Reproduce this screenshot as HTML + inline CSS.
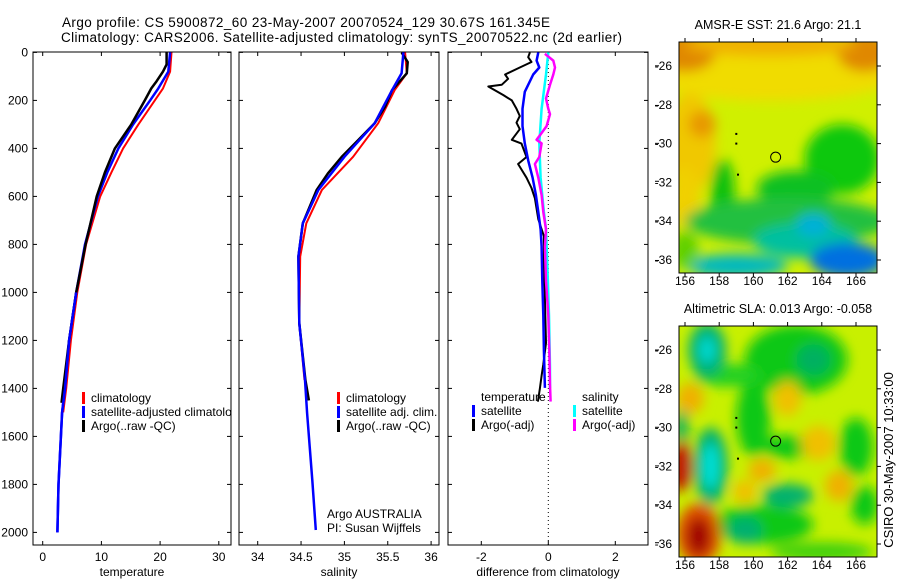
<!DOCTYPE html>
<html><head><meta charset="utf-8"><style>
html,body{margin:0;padding:0;background:#fff;}
svg{display:block;font-family:"Liberation Sans",sans-serif;}
</style></head><body>
<svg id="fig" width="900" height="580" viewBox="0 0 900 580" xmlns="http://www.w3.org/2000/svg">
<defs>
<clipPath id="c1"><rect x="33" y="52" width="198" height="493"/></clipPath>
<clipPath id="c2"><rect x="239" y="52" width="200" height="493"/></clipPath>
<clipPath id="c3"><rect x="448" y="52" width="200" height="493"/></clipPath>
<clipPath id="m1"><rect x="679" y="42" width="198" height="231"/></clipPath>
<clipPath id="m2"><rect x="679" y="326" width="198" height="231"/></clipPath>
<filter id="bl" x="-50%" y="-50%" width="200%" height="200%"><feGaussianBlur stdDeviation="6"/></filter>
</defs>
<text x="62" y="27" font-size="13.5" textLength="488">Argo profile: CS 5900872_60 23-May-2007 20070524_129 30.67S 161.345E</text>
<text x="61" y="42" font-size="13.5" textLength="561">Climatology: CARS2006. Satellite-adjusted climatology: synTS_20070522.nc (2d earlier)</text>
<g id="g"></g>
<text transform="translate(893,460) rotate(-90)" text-anchor="middle" font-size="13">CSIRO 30-May-2007 10:33:00</text>
</svg>
<script>
// ---------- data ----------
const tempClimDepth=[0,80,150,200,300,400,500,600,800,1000,1200,1400,1500];
const tempClim=[21.95,21.7,20.5,19.1,16.3,13.7,11.7,9.8,7.4,5.9,4.8,4.0,3.5];
const tempSatDepth=[0,80,150,200,300,400,500,600,800,1000,1200,1400,1500,1600,1800,2000];
const tempSat=[21.7,21.4,19.7,18.3,15.4,12.9,11.0,9.4,7.2,5.7,4.5,3.8,3.3,3.1,2.7,2.5];
const tempArgoDepth=[0,50,80,120,150,200,300,400,500,600,800,1000,1200,1400,1460];
const tempArgo=[21.1,21.1,20.5,19.4,18.5,17.4,15.1,12.3,10.6,9.2,7.3,5.7,4.5,3.5,3.2];
const salClimDepth=[0,87,157,295,435,573,712,851,1129,1365];
const salClim=[35.70,35.72,35.58,35.39,35.10,34.74,34.56,34.49,34.48,34.54];
const salSatDepth=[0,87,157,295,435,573,712,851,1129,1365,1503,1643,1782,1990];
const salSat=[35.68,35.66,35.55,35.35,35.0,34.70,34.52,34.47,34.48,34.546,34.57,34.60,34.63,34.67];
const salArgoDepth=[0,40,87,157,226,295,365,435,504,573,712,851,1129,1365,1450];
const salArgo=[35.66,35.73,35.72,35.55,35.47,35.35,35.16,34.97,34.81,34.68,34.52,34.47,34.48,34.55,34.59];
const dTArgoDepth=[0,20,40,63,92,110,135,142,178,200,235,265,293,320,364,380,436,465,522,565,608,695,766,881,1025,1211,1300,1347,1400,1455];
const dTArgo=[-0.55,-0.60,-0.50,-0.85,-1.29,-1.20,-1.39,-1.79,-1.34,-1.09,-0.95,-0.85,-0.95,-0.85,-1.09,-0.80,-0.65,-0.90,-0.65,-0.50,-0.40,-0.30,-0.13,-0.13,-0.10,-0.07,-0.15,-0.20,-0.25,-0.31];
const dTSatDepth=[0,34,63,92,164,235,307,379,450,522,594,665,737,809,953,1096,1240,1398];
const dTSat=[-0.30,-0.35,-0.27,-0.45,-0.70,-0.77,-0.77,-0.70,-0.60,-0.47,-0.37,-0.30,-0.23,-0.20,-0.18,-0.15,-0.13,-0.10];
const dSSatDepth=[0,92,235,379,522,665,737,880,1096,1311,1398];
const dSSat=[0,-0.07,-0.20,-0.27,-0.23,-0.13,-0.07,-0.03,0.02,0.05,0.05];
const dSArgoDepth=[6,34,63,92,135,192,235,257,307,336,364,379,436,465,522,594,665,737,809,953,1096,1240,1384,1455];
const dSArgo=[-0.10,0.15,0.20,0.15,0.05,-0.07,0.0,0.05,-0.05,-0.20,-0.35,-0.20,-0.27,-0.40,-0.30,-0.20,-0.15,-0.07,-0.10,-0.07,0.0,0.03,0.05,0.07];
const depthTicks=[0,200,400,600,800,1000,1200,1400,1600,1800,2000];
const tempTicks=[0,10,20,30];
const salTicks=[34,34.5,35,35.5,36];
const diffTicks=[-2,0,2];
const lonTicks=[156,158,160,162,164,166];
const latTicks=[-26,-28,-30,-32,-34,-36];

// ---------- helpers ----------
const NS="http://www.w3.org/2000/svg";
const G=document.getElementById('g');
function mk(tag,at,parent){const e=document.createElementNS(NS,tag);for(const k in at)e.setAttribute(k,at[k]);(parent||G).appendChild(e);return e;}
const yD=d=>52.4+d*0.24;
const xT=t=>42.7+t*5.87;
const xS=s=>257.7+(s-34)*86.7;
const xDf=v=>548.3+v*33.5;
function line(dep,val,xf,color,w,clip,name){
  const pts=dep.map((d,i)=>xf(val[i]).toFixed(1)+','+yD(d).toFixed(1)).join(' ');
  const p=mk('polyline',{points:pts,fill:'none',stroke:color,'stroke-width':w,'clip-path':'url(#'+clip+')','stroke-linejoin':'round'});
  
  
}
function txt(x,y,s,opt){const t=mk('text',Object.assign({x:x,y:y,'font-size':12},opt||{}));t.textContent=s;return t;}

// ---------- profile panels ----------
const panels=[{x0:33,x1:231,ticks:tempTicks,xf:xT,lab:'temperature',name:'temperature-panel'},
              {x0:239,x1:439,ticks:salTicks,xf:xS,lab:'salinity',name:'salinity-panel'},
              {x0:448,x1:648,ticks:diffTicks,xf:xDf,lab:'difference from climatology',name:'difference-panel'}];
panels.forEach((p,pi)=>{
  const r=mk('rect',{x:p.x0,y:52,width:p.x1-p.x0,height:493,fill:'none',stroke:'#000','stroke-width':1});
  
  
  depthTicks.forEach(d=>{
    const y=yD(d);
    mk('line',{x1:p.x0,x2:p.x0+4,y1:y,y2:y,stroke:'#000'});
    mk('line',{x1:p.x1,x2:p.x1-4,y1:y,y2:y,stroke:'#000'});
    if(pi===0){const t=txt(28,y+4,String(d),{'text-anchor':'end'});
      
      }
  });
  p.ticks.forEach(v=>{
    const x=p.xf(v);
    mk('line',{x1:x,x2:x,y1:52,y2:56,stroke:'#000'});
    mk('line',{x1:x,x2:x,y1:545,y2:541,stroke:'#000'});
    const t=txt(x,561,String(v),{'text-anchor':'middle'});
    
    
  });
  const xl=txt((p.x0+p.x1)/2,576,p.lab,{'text-anchor':'middle'});
  
  
});
const z=mk('line',{x1:xDf(0),x2:xDf(0),y1:52,y2:545,stroke:'#000','stroke-dasharray':'1,3'});


[56,221,379,537,702,867,1240,1400,1562,1723,1885,2043].forEach(d=>{mk('line',{x1:655,x2:659,y1:yD(d),y2:yD(d),stroke:'#000'});});

line(tempClimDepth,tempClim,xT,'#f00',2,'c1','temp-climatology-line');
line(tempSatDepth,tempSat,xT,'#00f',2.5,'c1','temp-satellite-line');
line(tempArgoDepth,tempArgo,xT,'#000',2.5,'c1','temp-argo-line');
line(tempSatDepth.slice(9),tempSat.slice(9),xT,'#00f',2.5,'c1','temp-satellite-deep-line');
line(salClimDepth,salClim,xS,'#f00',2,'c2','sal-climatology-line');
line(salArgoDepth,salArgo,xS,'#000',2.5,'c2','sal-argo-line');
line(salSatDepth,salSat,xS,'#00f',2.5,'c2','sal-satellite-line');
line(dTArgoDepth,dTArgo,xDf,'#000',2,'c3','dtemp-argo-line');
line(dTSatDepth,dTSat,xDf,'#00f',2.5,'c3','dtemp-satellite-line');
line(dSSatDepth,dSSat,xDf,'#0ff',2.5,'c3','dsal-satellite-line');
line(dSArgoDepth,dSArgo,xDf,'#f0f',2.5,'c3','dsal-argo-line');

function leg(x,y,color,label,name,clip){
  mk('rect',{x:x,y:y-10,width:3,height:12,fill:color});
  const t=txt(x+9,y,label,clip?{'clip-path':'url(#'+clip+')'}:{});
  
  
}
leg(82,402,'#f00','climatology','legend-climatology');
leg(82,416,'#00f','satellite-adjusted climatology','legend-satellite-adjusted','c1');
leg(82,430,'#000','Argo(..raw -QC)','legend-argo');
leg(337,402,'#f00','climatology','legend2-climatology');
leg(337,416,'#00f','satellite adj. clim.','legend2-satellite');
leg(337,430,'#000','Argo(..raw -QC)','legend2-argo');
let tt=txt(481,401,'temperature');
leg(472,415,'#00f','satellite','legend3-temp-satellite');
leg(472,429,'#000','Argo(-adj)','legend3-temp-argo');
tt=txt(582,401,'salinity');
leg(573,415,'#0ff','satellite','legend3-sal-satellite');
leg(573,429,'#f0f','Argo(-adj)','legend3-sal-argo');
tt=txt(327,518,'Argo AUSTRALIA');
tt=txt(327,532,'PI: Susan Wijffels');

// ---------- maps ----------
const sstBlobs=[ // lon,lat,rx(deg),ry(deg),color
[161,-26.2,8,1.6,'#f0dc00'],[156,-25.3,1.8,1,'#e08800'],[166.5,-25.3,1.6,1,'#e08800'],[161,-24.9,5,0.6,'#f0b000'],
[156.3,-30,1.5,2.6,'#f0c800'],[157,-29,0.8,0.7,'#e89800'],[156,-32.8,0.9,1.6,'#f0d000'],
[165.2,-30.8,2.2,1.8,'#10c810'],[162.5,-32.3,2.3,0.9,'#10c020'],[158.2,-32.6,0.7,1.8,'#10c010'],[162,-34,6,1.2,'#20c040'],
[163,-35,3,0.9,'#00c0a0'],[163.5,-34.2,1,0.6,'#00b0d8'],[165.5,-36,2.2,0.9,'#0070e0'],[159,-36.3,3,0.6,'#00b8c0'],[156,-35.5,0.8,1,'#60d000']];
const slaBlobs=[
[162.5,-26.5,3,1.8,'#10c818'],[163.5,-26.5,1,0.8,'#00b060'],[160,-29.5,1,2,'#10c818'],[158.5,-27.3,2,0.6,'#20d020'],[166,-31,1,1.5,'#10c818'],[160.5,-35,3,1,'#10c818'],
[162,-33.5,1.5,0.6,'#00b070'],[159.5,-35.3,1,0.7,'#00b070'],[166.5,-34,0.8,1,'#10c818'],[162,-31,1.5,0.6,'#10c818'],[164,-36.4,3,0.5,'#40d010'],
[157.3,-26,1.1,1.4,'#00b070'],[157.3,-26,0.5,0.7,'#00d8d0'],[157.5,-32,1,2,'#00b070'],[157.5,-32,0.5,1.2,'#00e0d8'],[155.8,-30,0.4,1,'#10b060'],
[156.8,-35.5,1.3,1.6,'#e05000'],[156.8,-35.6,0.7,1,'#a00000'],[155.8,-32,0.6,1.3,'#c01000'],[156.3,-28.5,0.8,0.8,'#f0b000'],
[162,-28.5,0.8,0.9,'#f0c000'],[163.8,-30.8,1,0.9,'#f0c000'],[165,-33,0.8,0.8,'#f0b000'],[160.5,-32.2,0.8,0.6,'#f0b000'],[159.5,-33.3,0.7,0.6,'#f0c000']];
function map(y0,title,base,blobs,name){
  const lx=l=>685+(l-156)*17.1, ly=a=>y0+24+(-26-a)*19.4;
  const g=mk('g',{'clip-path':'url(#'+(y0<100?'m1':'m2')+')'});
  
  
  mk('rect',{x:679,y:y0,width:198,height:231,fill:base},g);
  const gb=mk('g',{filter:'url(#bl)'},g);
  blobs.forEach(b=>{const e=mk('ellipse',{cx:lx(b[0]),cy:ly(b[1]),rx:b[2]*17.1,ry:b[3]*19.4,fill:b[4]},gb);
    
    });
  [[159,-29.5],[159,-30],[159.1,-31.6]].forEach(p=>mk('rect',{x:lx(p[0])-1,y:ly(p[1])-1,width:2,height:2,fill:'#000'},g));
  const c=mk('circle',{cx:lx(161.3),cy:ly(-30.7),r:5,fill:'none',stroke:'#000'});
  
  
  const f=mk('rect',{x:679,y:y0,width:198,height:231,fill:'none',stroke:'#000'});
  
  
  lonTicks.forEach(l=>{const x=lx(l);mk('line',{x1:x,x2:x,y1:y0,y2:y0-4,stroke:'#000'});mk('line',{x1:x,x2:x,y1:y0+231,y2:y0+235,stroke:'#000'});
    const t=txt(x,y0+243,String(l),{'text-anchor':'middle'});});
  latTicks.forEach(a=>{const y=ly(a);mk('line',{x1:877,x2:881,y1:y,y2:y,stroke:'#000'});
    const t=txt(672,y+4,String(a),{'text-anchor':'end'});});
  const t=txt(778,y0-13,title,{'text-anchor':'middle','font-size':12.5});
  
  
}
map(42,'AMSR-E SST: 21.6 Argo: 21.1','#d0f000',sstBlobs,'sst-map');
map(326,'Altimetric SLA: 0.013 Argo: -0.058','#c8f000',slaBlobs,'sla-map');
</script>
</body></html>
